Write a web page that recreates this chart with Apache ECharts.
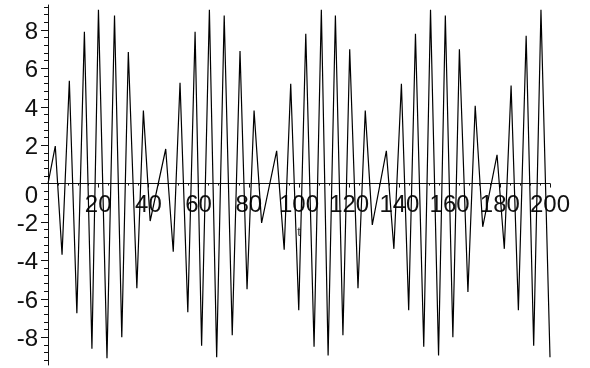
<!DOCTYPE html>
<html>
<head>
<meta charset="utf-8">
<title>beat signal</title>
<script src="https://cdn.jsdelivr.net/npm/echarts@6/dist/echarts.min.js"></script>
<style>
  html, body { margin: 0; padding: 0; background: #fff; }
  #chart { width: 590px; height: 368px; }
</style>
</head>
<body>
<div id="chart"></div>
<script>
// turning points of the curve
const tValues = [
  0, 2.9, 5.6, 8.5, 11.5, 14.5, 17.5, 20.1, 23.5, 26.5, 29.4, 32.0, 35.4, 38.0, 40.7,
  46.9, 49.9, 52.6, 55.7, 58.6, 61.2, 64.3, 67.2, 70.2, 73.4, 76.5, 79.3, 82.1, 85.1,
  91.1, 94.1, 96.7, 99.9, 102.7, 106.0, 108.9, 111.6, 114.5, 117.5, 120.2, 123.5, 126.4, 129.2,
  134.8, 137.8, 140.8, 143.7, 146.4, 149.7, 152.4, 155.6, 158.3, 161.3, 163.9, 167.3, 170.2, 173.2,
  178.9, 181.8, 184.5, 187.4, 190.5, 193.5, 196.4, 200.0
];
const fValues = [
  0, 1.95, -3.7, 5.35, -6.75, 7.9, -8.6, 9.05, -9.1, 8.75, -8.0, 6.85, -5.45, 3.8, -1.95,
  1.8, -3.55, 5.25, -6.7, 7.9, -8.45, 9.05, -9.05, 8.75, -7.9, 6.9, -5.5, 3.8, -2.05,
  1.7, -3.45, 5.2, -6.6, 7.8, -8.5, 9.05, -8.95, 8.75, -7.9, 7.0, -5.45, 3.8, -2.15,
  1.7, -3.4, 5.2, -6.6, 7.8, -8.5, 9.05, -8.95, 8.75, -8.0, 7.0, -5.65, 4.05, -2.25,
  1.5, -3.4, 5.1, -6.6, 7.7, -8.45, 9.05, -9.05
];

const xLabels = [20, 40, 60, 80, 100, 120, 140, 160, 180, 200];
const yLabels = [-8, -6, -4, -2, 0, 2, 4, 6, 8];

const Y_MIN = -9.45;
const Y_MAX = 9.3;

// small ticks every 0.4 on the vertical axis
const yMinorTicks = [];
for (let k = -23; k <= 23; k++) yMinorTicks.push(Math.round(k * 0.4 * 10) / 10);

const FONT = "'Liberation Sans', Arial, sans-serif";
const INK = "#111";

const GRID_TOP = 5;
const GRID_BOTTOM = 3;
const PLOT_H = 368 - GRID_TOP - GRID_BOTTOM;
// the horizontal axis sits at f = 0, so lift it up from the grid bottom
const zeroLift = (PLOT_H * -Y_MIN) / (Y_MAX - Y_MIN);

const chart = echarts.init(document.getElementById("chart"), null, { renderer: "canvas" });

chart.setOption({
  animation: false,
  backgroundColor: "#fff",
  grid: {
    left: 48,
    right: 40,
    top: GRID_TOP,
    bottom: GRID_BOTTOM,
    containLabel: false,
    outerBoundsMode: "none",
  },
  xAxis: {
    type: "value",
    min: 0,
    max: 200,
    interval: 20,
    position: "bottom",
    offset: -zeroLift,
    name: "t",
    nameLocation: "middle",
    nameGap: 42,
    nameTextStyle: { fontFamily: FONT, fontSize: 13, color: "#333" },
    axisLine: { onZero: false, lineStyle: { color: INK, width: 1 } },
    axisTick: { show: true, length: 4, lineStyle: { color: INK } },
    minorTick: { show: true, splitNumber: 5, length: 2, lineStyle: { color: INK } },
    splitLine: { show: false },
    axisLabel: {
      customValues: xLabels,
      margin: 10,
      fontFamily: FONT,
      fontSize: 24,
      color: INK,
    },
  },
  yAxis: [
    {
      type: "value",
      min: Y_MIN,
      max: Y_MAX,
      position: "left",
      axisLine: { show: true, onZero: false, lineStyle: { color: INK, width: 1 } },
      axisTick: { show: true, customValues: yMinorTicks, length: 4, lineStyle: { color: INK } },
      splitLine: { show: false },
      axisLabel: {
        customValues: yLabels,
        margin: 10,
        formatter: (v) => (v === 0 ? "{z|0}" : "{n|" + v + "}"),
        rich: {
          n: { fontFamily: FONT, fontSize: 24, color: INK, padding: [5, 0, 0, 0] },
          z: { fontFamily: FONT, fontSize: 24, color: INK, padding: [26, 0, 0, 0] },
        },
      },
    },
    {
      // longer marks at the labelled values
      type: "value",
      min: Y_MIN,
      max: Y_MAX,
      position: "left",
      offset: 0,
      axisLine: { show: false, onZero: false },
      axisTick: { show: true, customValues: yLabels, length: 7, lineStyle: { color: INK } },
      splitLine: { show: false },
      axisLabel: { show: false },
    },
  ],
  series: [
    {
      type: "line",
      data: tValues.map((t, i) => [t, fValues[i]]),
      showSymbol: false,
      symbol: "none",
      lineStyle: { color: "#000", width: 1.2 },
    },
  ],
});
</script>
</body>
</html>
